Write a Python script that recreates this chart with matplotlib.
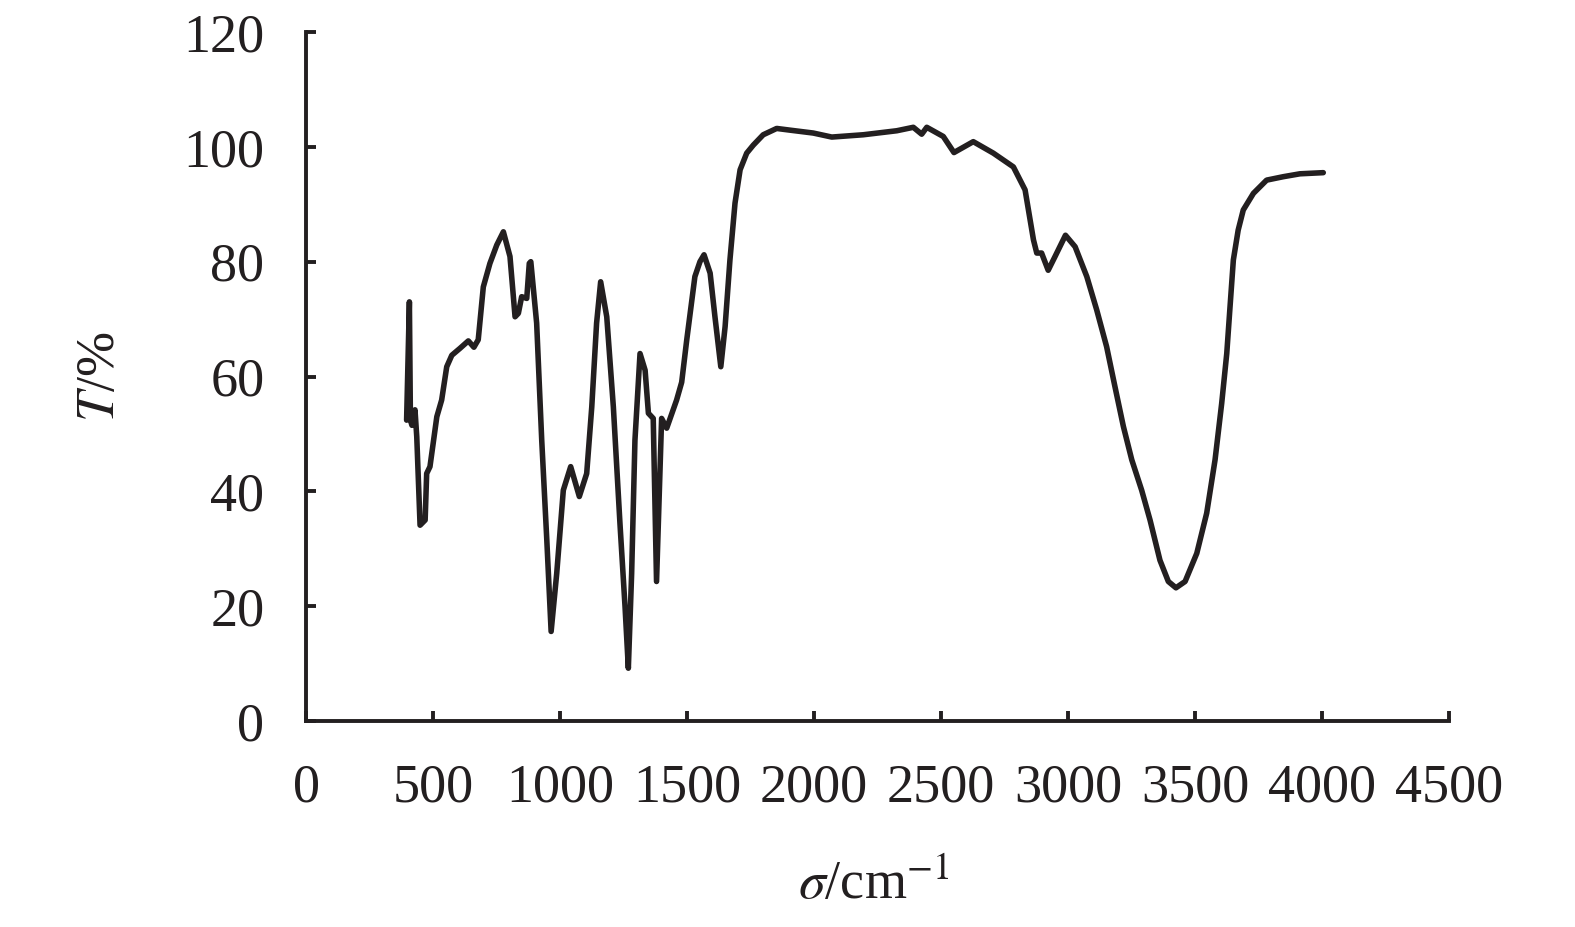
import matplotlib.pyplot as plt

plt.rcParams['font.family'] = ['Liberation Serif', 'DejaVu Serif']
plt.rcParams['mathtext.fontset'] = 'stix'

# IR spectrum
wavenumber = [396, 407, 411, 417, 429, 436, 449, 469, 475, 488, 515, 534, 554, 574, 606, 639,
              661, 678, 698, 724, 751, 777, 803, 823, 836, 849, 869, 879, 885, 908, 928, 948,
              965, 987, 1013, 1042, 1076, 1105, 1125, 1144, 1160, 1184, 1210, 1236, 1256, 1269,
              1282, 1295, 1315, 1335, 1348, 1367, 1380, 1400, 1420, 1459, 1479, 1499, 1531, 1551,
              1567, 1591, 1610, 1633, 1650, 1669, 1689, 1709, 1735, 1761, 1800, 1853, 1906, 1997,
              2070, 2194, 2326, 2391, 2424, 2444, 2509, 2551, 2627, 2706, 2785, 2831, 2864, 2877,
              2896, 2922, 2949, 2990, 3028, 3074, 3113, 3152, 3185, 3218, 3251, 3290, 3323, 3362,
              3395, 3425, 3461, 3507, 3546, 3579, 3605, 3625, 3638, 3651, 3670, 3690, 3730, 3782,
              3848, 3913, 4005]
transmittance = [52.4, 73.0, 52.4, 51.5, 54.2, 49.5, 34.1, 35.0, 43.1, 44.3, 53.0, 55.9, 61.7,
                 63.7, 64.9, 66.2, 65.1, 66.4, 75.6, 79.7, 82.9, 85.2, 80.9, 70.4, 71.0, 73.9,
                 73.6, 79.7, 80.0, 69.3, 48.9, 31.5, 15.6, 25.7, 40.2, 44.3, 39.1, 43.1, 54.7,
                 69.3, 76.5, 70.4, 54.7, 34.4, 19.9, 9.2, 25.7, 48.9, 64.0, 61.1, 53.6, 52.7,
                 24.3, 52.7, 51.0, 55.9, 59.0, 66.4, 77.4, 80.0, 81.2, 78.0, 70.4, 61.7, 68.7,
                 80.3, 90.2, 96.0, 98.9, 100.3, 102.1, 103.2, 102.9, 102.4, 101.7, 102.1, 102.8,
                 103.4, 102.2, 103.4, 101.8, 99.0, 100.9, 98.9, 96.5, 92.5, 83.8, 81.5, 81.5,
                 78.5, 80.9, 84.6, 82.6, 77.4, 71.6, 65.2, 58.2, 51.3, 45.5, 40.2, 35.0, 28.0,
                 24.3, 23.2, 24.3, 29.2, 36.2, 45.5, 55.3, 64.0, 72.2, 80.3, 85.5, 89.0, 91.9,
                 94.2, 94.8, 95.3, 95.5]

x_ticks = [0, 500, 1000, 1500, 2000, 2500, 3000, 3500, 4000, 4500]
y_ticks = [0, 20, 40, 60, 80, 100, 120]

fig = plt.figure(figsize=(15.75, 9.27), dpi=100)
ax = fig.add_axes([0.1943, 0.2222, 0.7257, 0.7433])

ax.plot(wavenumber, transmittance, color='#231f20', lw=4.0,
        solid_joinstyle='round', solid_capstyle='round')

ax.set_xlim(0, 4500)
ax.set_ylim(0, 120)
ax.set_xticks(x_ticks)
ax.set_yticks(y_ticks)

for side in ['top', 'right']:
    ax.spines[side].set_visible(False)
for side in ['left', 'bottom']:
    ax.spines[side].set_linewidth(2.8)
    ax.spines[side].set_color('#231f20')

ax.tick_params(direction='in', length=7, width=2.8, color='#231f20',
               labelsize=39, labelcolor='#231f20', pad=30)

ax.set_xlabel(r'$\sigma$/cm$^{-1}$', fontsize=39, color='#231f20', va='center')
ax.xaxis.set_label_coords(0.497, -0.238)
ax.set_ylabel(r'$T$/%', fontsize=39, color='#231f20', va='center')
ax.yaxis.set_label_coords(-0.18, 0.5)

fig.savefig('out.png', dpi=100)
